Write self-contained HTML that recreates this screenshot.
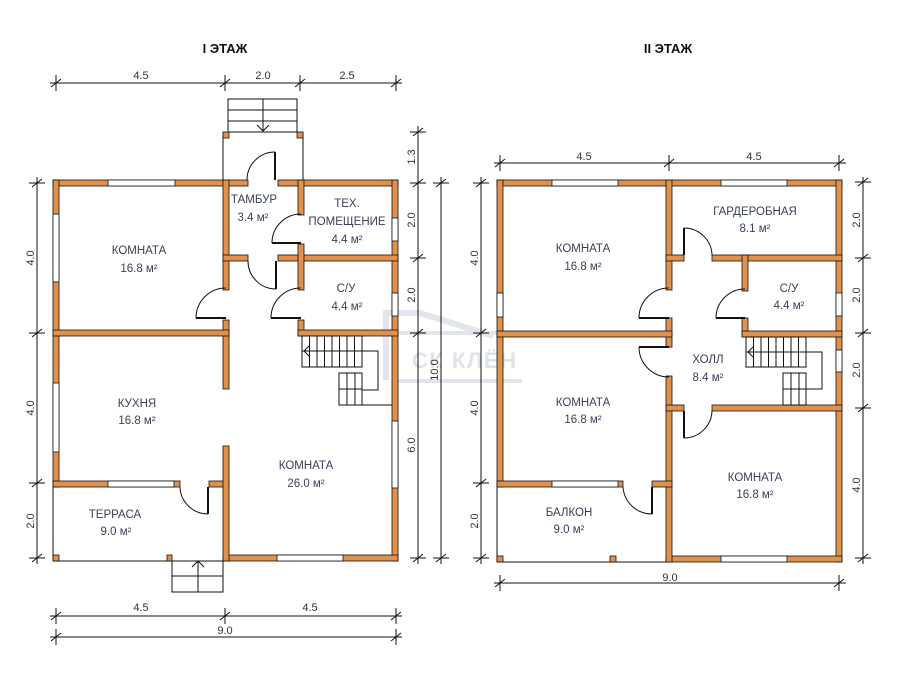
<!DOCTYPE html>
<html><head><meta charset="utf-8"><style>
html,body{margin:0;padding:0;background:#fff}
svg{display:block}
.w{fill:#e0914b;stroke:#111;stroke-width:0.8}
.win{fill:#fff;stroke:#111;stroke-width:0.8}
.l{stroke:#111;stroke-width:1;fill:none}
.t{font-family:"Liberation Sans",sans-serif;font-size:11.5px;fill:#3a3f58;text-anchor:middle}
.d{font-family:"Liberation Sans",sans-serif;font-size:11px;fill:#333;text-anchor:middle}
.h{font-family:"Liberation Sans",sans-serif;font-size:13px;font-weight:bold;fill:#111;text-anchor:middle}
</style></head><body>
<svg width="900" height="689" viewBox="0 0 900 689" xmlns="http://www.w3.org/2000/svg">
<defs>
<g id="tk"><line x1="-8" y1="0" x2="8" y2="0" stroke="#111" stroke-width="1"/><line x1="-5" y1="4" x2="5" y2="-4" stroke="#111" stroke-width="1"/></g>
<g id="tv"><line x1="0" y1="-8" x2="0" y2="8" stroke="#111" stroke-width="1"/><line x1="-5" y1="4" x2="5" y2="-4" stroke="#111" stroke-width="1"/></g>
</defs>

<text class="h" x="225" y="53">I ЭТАЖ</text>
<text class="h" x="668" y="53">II ЭТАЖ</text>

<!-- watermark -->
<g opacity="0.45" fill="none" stroke="#bfc6d4" stroke-width="6">
<path d="M386 380 L386 313 L420 313 L493 336"/>
<line x1="395" y1="333" x2="520" y2="333" stroke-width="4"/>
<line x1="395" y1="381" x2="522" y2="381" stroke-width="4"/>
</g>
<text x="412" y="368" opacity="0.5" textLength="104" style="font-family:'Liberation Sans',sans-serif;font-size:22px;font-weight:bold;fill:#bfc6d4">СК КЛЁН</text>

<!-- ===== FLOOR 1 dims ===== -->
<line class="l" x1="50" y1="83" x2="402" y2="83"/>
<use href="#tv" x="56" y="83"/><use href="#tv" x="225" y="83"/><use href="#tv" x="300" y="83"/><use href="#tv" x="396" y="83"/>
<text class="d" x="141" y="79">4.5</text><text class="d" x="263" y="79">2.0</text><text class="d" x="347" y="79">2.5</text>

<line class="l" x1="37" y1="177" x2="37" y2="564"/>
<use href="#tk" x="37" y="183"/><use href="#tk" x="37" y="333"/><use href="#tk" x="37" y="483"/><use href="#tk" x="37" y="558"/>
<text class="d" transform="translate(34,258) rotate(-90)">4.0</text>
<text class="d" transform="translate(34,408) rotate(-90)">4.0</text>
<text class="d" transform="translate(34,521) rotate(-90)">2.0</text>

<line class="l" x1="418" y1="126" x2="418" y2="564"/>
<use href="#tk" x="418" y="132"/><use href="#tk" x="418" y="183"/><use href="#tk" x="418" y="258"/><use href="#tk" x="418" y="333"/><use href="#tk" x="418" y="558"/>
<text class="d" transform="translate(415,157) rotate(-90)">1.3</text>
<text class="d" transform="translate(415,220) rotate(-90)">2.0</text>
<text class="d" transform="translate(415,295) rotate(-90)">2.0</text>
<text class="d" transform="translate(415,445) rotate(-90)">6.0</text>
<line class="l" x1="441" y1="177" x2="441" y2="564"/>
<use href="#tk" x="441" y="183"/><use href="#tk" x="441" y="558"/>
<text class="d" transform="translate(438,370) rotate(-90)">10.0</text>

<line class="l" x1="50" y1="616" x2="402" y2="616"/>
<use href="#tv" x="56" y="616"/><use href="#tv" x="225" y="616"/><use href="#tv" x="396" y="616"/>
<text class="d" x="141" y="611">4.5</text><text class="d" x="310" y="611">4.5</text>
<line class="l" x1="50" y1="637" x2="402" y2="637"/>
<use href="#tv" x="56" y="637"/><use href="#tv" x="396" y="637"/>
<text class="d" x="225" y="634">9.0</text>

<!-- floor1 vestibule & stairs -->
<line class="l" x1="223" y1="132" x2="223" y2="180"/><line class="l" x1="303" y1="132" x2="303" y2="180"/>
<rect class="l" x="228" y="99" width="69" height="33"/>
<line class="l" x1="228" y1="110" x2="297" y2="110"/><line class="l" x1="228" y1="121" x2="297" y2="121"/>
<line class="l" x1="263" y1="99" x2="263" y2="132"/>
<polyline class="l" points="257,125 263,131 269,125"/>
<rect class="w" x="223" y="132" width="6" height="6"/><rect class="w" x="297" y="132" width="6" height="6"/>

<!-- floor1 terrace lines -->
<line class="l" x1="53" y1="487" x2="53" y2="561"/>
<line class="l" x1="53" y1="561" x2="229" y2="561"/>
<rect class="w" x="53" y="555" width="6" height="6"/><rect class="w" x="167" y="555" width="5" height="6"/>
<rect class="l" x="172" y="561" width="51" height="31"/>
<line class="l" x1="172" y1="576" x2="223" y2="576"/><line class="l" x1="198" y1="561" x2="198" y2="592"/>
<polyline class="l" points="192,567 198,561 204,567"/>

<!-- floor1 walls -->
<rect class="w" x="53" y="180" width="195" height="6"/>
<rect class="w" x="278" y="180" width="120" height="6"/>
<rect class="win" x="108" y="180" width="67" height="6"/>
<rect class="w" x="53" y="180" width="6" height="307"/>
<rect class="win" x="53" y="214" width="6" height="68"/><rect class="win" x="53" y="383" width="6" height="69"/>
<rect class="w" x="392" y="180" width="6" height="381"/>
<rect class="win" x="392" y="218" width="6" height="23"/><rect class="win" x="392" y="293" width="6" height="23"/><rect class="win" x="392" y="421" width="6" height="67"/>
<rect class="w" x="223" y="555" width="175" height="6"/>
<rect class="win" x="277" y="555" width="66" height="6"/>
<rect class="w" x="53" y="481" width="127" height="6"/>
<rect class="win" x="108" y="481" width="66" height="6"/>
<rect class="w" x="209" y="481" width="20" height="6"/>
<rect class="w" x="223" y="180" width="6" height="110"/>
<rect class="w" x="223" y="320" width="6" height="69"/>
<rect class="w" x="223" y="446" width="6" height="115"/>
<rect class="w" x="53" y="330" width="176" height="6"/>
<rect class="w" x="223" y="255" width="25" height="6"/>
<rect class="w" x="278" y="255" width="120" height="6"/>
<rect class="w" x="298" y="180" width="6" height="35"/>
<rect class="w" x="298" y="244" width="6" height="46"/>
<rect class="w" x="298" y="320" width="6" height="16"/>
<rect class="w" x="298" y="330" width="100" height="6"/>

<!-- floor1 doors -->
<g class="l">
<line x1="275" y1="180" x2="275" y2="152" stroke-width="2"/><path d="M247,180 A28,28 0 0 1 275,152"/>
<line x1="301" y1="243" x2="272" y2="243" stroke-width="2"/><path d="M272,243 A29,29 0 0 1 301,214"/>
<line x1="276" y1="261" x2="276" y2="289" stroke-width="2"/><path d="M248,261 A28,28 0 0 0 276,289"/>
<line x1="226" y1="318" x2="196" y2="318" stroke-width="2"/><path d="M196,318 A30,30 0 0 1 226,288"/>
<line x1="301" y1="318" x2="271" y2="318" stroke-width="2"/><path d="M271,318 A30,30 0 0 1 301,288"/>
<line x1="208" y1="487" x2="208" y2="514" stroke-width="2"/><path d="M180,487 A28,28 0 0 0 208,514"/>
</g>

<!-- floor1 stairs -->
<g class="l">
<rect x="302" y="336" width="60" height="31"/>
<line x1="302" y1="351" x2="362" y2="351"/>
<path d="M309.5,336V367M317,336V367M324.5,336V367M332,336V367M339.5,336V367M347,336V367M354.5,336V367"/>
<polyline points="309,346 304,351 309,356"/>
<polyline points="362,351 378,351 378,390 362,390"/>
<rect x="339" y="373" width="23" height="32"/>
<line x1="339" y1="389" x2="362" y2="389"/>
<path d="M347,373V405M355,373V405"/>
<line x1="362" y1="405" x2="392" y2="405"/>
</g>

<!-- floor1 labels -->
<text class="t" x="139" y="254">КОМНАТА</text><text class="t" x="139" y="272">16.8 м²</text>
<text class="t" x="254" y="203">ТАМБУР</text><text class="t" x="253" y="221">3.4 м²</text>
<text class="t" x="347" y="207">ТЕХ.</text><text class="t" x="347" y="225">ПОМЕЩЕНИЕ</text><text class="t" x="347" y="243">4.4 м²</text>
<text class="t" x="346" y="292">С/У</text><text class="t" x="347" y="310">4.4 м²</text>
<text class="t" x="137" y="407">КУХНЯ</text><text class="t" x="137" y="424">16.8 м²</text>
<text class="t" x="306" y="469">КОМНАТА</text><text class="t" x="306" y="487">26.0 м²</text>
<text class="t" x="115" y="518">ТЕРРАСА</text><text class="t" x="116" y="535">9.0 м²</text>

<!-- ===== FLOOR 2 dims ===== -->
<line class="l" x1="494" y1="163" x2="846" y2="163"/>
<use href="#tv" x="500" y="163"/><use href="#tv" x="669" y="163"/><use href="#tv" x="839" y="163"/>
<text class="d" x="584" y="160">4.5</text><text class="d" x="754" y="160">4.5</text>
<line class="l" x1="481" y1="177" x2="481" y2="564"/>
<use href="#tk" x="481" y="183"/><use href="#tk" x="481" y="333"/><use href="#tk" x="481" y="483"/><use href="#tk" x="481" y="558"/>
<text class="d" transform="translate(478,258) rotate(-90)">4.0</text>
<text class="d" transform="translate(478,408) rotate(-90)">4.0</text>
<text class="d" transform="translate(478,521) rotate(-90)">2.0</text>
<line class="l" x1="863" y1="177" x2="863" y2="564"/>
<use href="#tk" x="863" y="182"/><use href="#tk" x="863" y="258"/><use href="#tk" x="863" y="333"/><use href="#tk" x="863" y="408"/><use href="#tk" x="863" y="558"/>
<text class="d" transform="translate(860,220) rotate(-90)">2.0</text>
<text class="d" transform="translate(860,295) rotate(-90)">2.0</text>
<text class="d" transform="translate(860,370) rotate(-90)">2.0</text>
<text class="d" transform="translate(860,485) rotate(-90)">4.0</text>
<line class="l" x1="494" y1="583" x2="846" y2="583"/>
<use href="#tv" x="500" y="583"/><use href="#tv" x="839" y="583"/>
<text class="d" x="670" y="581">9.0</text>

<!-- floor2 balcony lines -->
<line class="l" x1="497" y1="487" x2="497" y2="562"/>
<line class="l" x1="497" y1="562" x2="672" y2="562"/>
<rect class="w" x="497" y="556" width="6" height="6"/><rect class="w" x="610" y="556" width="6" height="6"/>

<!-- floor2 walls -->
<rect class="w" x="497" y="180" width="345" height="6"/>
<rect class="win" x="552" y="180" width="66" height="6"/><rect class="win" x="721" y="180" width="66" height="6"/>
<rect class="w" x="497" y="180" width="6" height="307"/>
<rect class="win" x="497" y="293" width="6" height="24"/>
<rect class="w" x="836" y="180" width="6" height="382"/>
<rect class="win" x="836" y="293" width="6" height="23"/><rect class="win" x="836" y="350" width="6" height="22"/>
<rect class="w" x="666" y="556" width="176" height="6"/>
<rect class="win" x="721" y="556" width="66" height="6"/>
<rect class="w" x="666" y="180" width="6" height="110"/>
<rect class="w" x="666" y="318" width="6" height="29"/>
<rect class="w" x="666" y="376" width="6" height="186"/>
<rect class="w" x="497" y="331" width="175" height="6"/>
<rect class="w" x="497" y="481" width="126" height="6"/>
<rect class="win" x="552" y="481" width="66" height="6"/>
<rect class="w" x="652" y="481" width="20" height="6"/>
<rect class="w" x="666" y="255" width="18" height="6"/>
<rect class="w" x="712" y="255" width="130" height="6"/>
<rect class="w" x="742" y="255" width="6" height="36"/>
<rect class="w" x="742" y="318" width="6" height="19"/>
<rect class="w" x="742" y="331" width="100" height="6"/>
<rect class="w" x="666" y="405" width="18" height="6"/>
<rect class="w" x="712" y="405" width="130" height="6"/>

<!-- floor2 doors -->
<g class="l">
<line x1="684" y1="255" x2="684" y2="228" stroke-width="2"/><path d="M684,228 A28,28 0 0 1 712,256"/>
<line x1="669" y1="318" x2="639" y2="318" stroke-width="2"/><path d="M639,318 A30,30 0 0 1 669,288"/>
<line x1="669" y1="347" x2="639" y2="347" stroke-width="2"/><path d="M639,347 A30,30 0 0 0 669,377"/>
<line x1="745" y1="318" x2="716" y2="318" stroke-width="2"/><path d="M716,318 A29,29 0 0 1 745,289"/>
<line x1="684" y1="411" x2="684" y2="438" stroke-width="2"/><path d="M684,438 A28,28 0 0 0 712,410"/>
<line x1="652" y1="487" x2="652" y2="514" stroke-width="2"/><path d="M623,487 A29,29 0 0 0 652,514"/>
</g>

<!-- floor2 stairs -->
<g class="l">
<rect x="746" y="337" width="60" height="30"/>
<line x1="746" y1="352" x2="806" y2="352"/>
<path d="M753.5,337V367M761,337V367M768.5,337V367M776,337V367M783.5,337V367M791,337V367M798.5,337V367"/>
<polyline points="753,347 748,352 753,357"/>
<polyline points="806,352 822,352 822,389 806,389"/>
<rect x="783" y="373" width="23" height="32"/>
<line x1="783" y1="389" x2="806" y2="389"/>
<path d="M791,373V405M799,373V405"/>
</g>

<!-- floor2 labels -->
<text class="t" x="583" y="252">КОМНАТА</text><text class="t" x="583" y="270">16.8 м²</text>
<text class="t" x="755" y="215">ГАРДЕРОБНАЯ</text><text class="t" x="755" y="232">8.1 м²</text>
<text class="t" x="789" y="292">С/У</text><text class="t" x="789" y="309">4.4 м²</text>
<text class="t" x="708" y="363">ХОЛЛ</text><text class="t" x="708" y="381">8.4 м²</text>
<text class="t" x="583" y="406">КОМНАТА</text><text class="t" x="583" y="423">16.8 м²</text>
<text class="t" x="755" y="481">КОМНАТА</text><text class="t" x="755" y="498">16.8 м²</text>
<text class="t" x="569" y="516">БАЛКОН</text><text class="t" x="569" y="533">9.0 м²</text>
</svg>
</body></html>
